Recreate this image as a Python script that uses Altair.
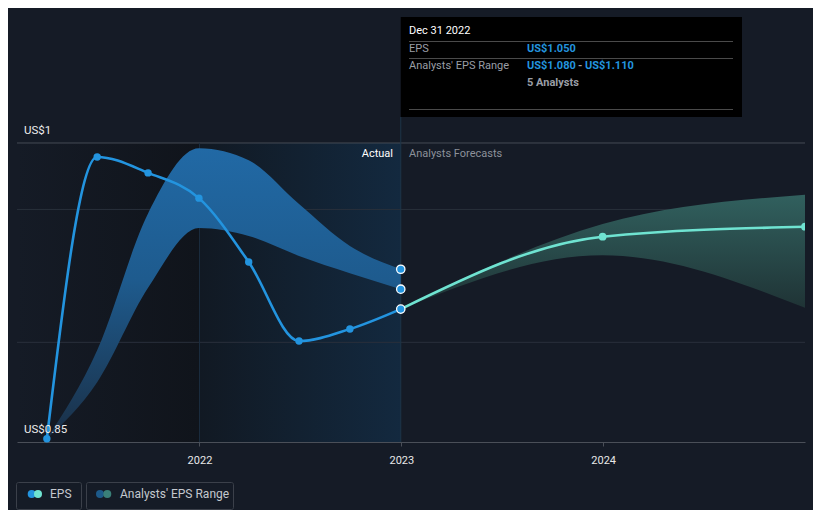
import altair as alt
import pandas as pd

# ---------------- data ----------------
actual_dates = ["2021-03-31", "2021-06-30", "2021-09-30", "2021-12-31",
                "2022-03-31", "2022-06-30", "2022-09-30", "2022-12-31"]
actual_eps = [0.855, 1.279, 1.255, 1.217, 1.121, 1.002, 1.020, 1.050]

past_range_low = [0.855, 0.940, 1.082, 1.172, 1.160, 1.130, 1.104, 1.080]
past_range_high = [0.855, 0.988, 1.194, 1.292, 1.274, 1.208, 1.145, 1.110]

forecast_dates = ["2022-12-31", "2023-12-31", "2024-12-31"]
forecast_eps = [1.050, 1.159, 1.174]
forecast_low = [1.050, 1.131, 1.052]
forecast_high = [1.050, 1.178, 1.222]

last_actual_date = "2022-12-31"
last_actual_values = [1.050, 1.080, 1.110]

gridline_values = [1.3, 1.2, 1.0]
y_label_values = [1.3, 0.85]
y_label_texts = ["US$1", "US$0.85"]
x_tick_years = [2022, 2023, 2024]

shade_past_start = ["2021-02-05"]
shade_past_end = ["2022-01-01"]
shade_recent_start = ["2022-01-01"]
shade_recent_end = ["2022-12-31"]
y_low, y_high = 0.85, 1.4896

# ---------------- styling ----------------
BG = "#151b26"
BLUE = "#2394df"
TEAL = "#6fe3d1"
FONT = "Roboto"

actual_df = pd.DataFrame({"date": actual_dates, "eps": actual_eps,
                          "low": past_range_low, "high": past_range_high})
fc_df = pd.DataFrame({"date": forecast_dates, "eps": forecast_eps,
                      "low": forecast_low, "high": forecast_high})
last_df = pd.DataFrame({"date": [last_actual_date] * 3, "v": last_actual_values})
grid_df = pd.DataFrame({"v": gridline_values, "c": ["top", "mid", "mid"]})
ylab_df = pd.DataFrame({"v": y_label_values, "t": y_label_texts})
shade1 = pd.DataFrame({"s": shade_past_start, "e": shade_past_end, "lo": [y_low], "hi": [1.3]})
shade2 = pd.DataFrame({"s": shade_recent_start, "e": shade_recent_end, "lo": [y_low], "hi": [1.3]})

xscale = alt.Scale(type="utc", domain=[alt.DateTime(year=2021, month=2, date=5, utc=True),
                                       alt.DateTime(year=2024, month=12, date=31, utc=True)])
yscale = alt.Scale(domain=[y_low, y_high], nice=False, zero=False)

xaxis = alt.Axis(
    values=[alt.DateTime(year=y, month=1, date=1, utc=True) for y in x_tick_years],
    format="%Y", formatType="utc", title=None, grid=False,
    domainColor="#4a4f58", tickColor="#4a4f58", tickSize=4,
    labelColor="#e8e8e8", labelFont=FONT, labelFontSize=11, labelPadding=8,
)


def X(field):
    return alt.X(f"{field}:T", scale=xscale, axis=xaxis)


def Y(field):
    return alt.Y(f"{field}:Q", scale=yscale, axis=None)


one = alt.Data(values=[{"a": 1}])

# background shading
rect_past = alt.Chart(shade1).mark_rect(
    fill={"gradient": "linear", "x1": 0, "y1": 0, "x2": 1, "y2": 0,
          "stops": [{"offset": 0, "color": BG}, {"offset": 1, "color": "#10141b"}]}
).encode(x=X("s"), x2="e:T", y=Y("lo"), y2="hi:Q")

rect_recent = alt.Chart(shade2).mark_rect(
    fill={"gradient": "linear", "x1": 0, "y1": 0, "x2": 1, "y2": 0,
          "stops": [{"offset": 0, "color": "#111923"}, {"offset": 1, "color": "#13293f"}]}
).encode(x=X("s"), x2="e:T", y=Y("lo"), y2="hi:Q")

grid = alt.Chart(grid_df).mark_rule(strokeWidth=1).encode(
    y=Y("v"), x=alt.value(0), x2=alt.value(788),
    color=alt.Color("c:N", scale=alt.Scale(domain=["top", "mid"], range=["#454b55", "#29303b"]), legend=None),
)

vline_2022 = alt.Chart(shade2).mark_rule(color="#1b2d3e", strokeWidth=1).encode(
    x=X("s"), y=Y("lo"), y2="hi:Q")

vline_now = alt.Chart(pd.DataFrame({"d": [last_actual_date]})).mark_rule(
    color="#1d3448", strokeWidth=1).encode(x=X("d"), y=alt.value(100), y2=alt.value(425))

past_band = alt.Chart(actual_df).mark_area(
    interpolate="monotone",
    color={"gradient": "linear", "x1": 0, "y1": 0, "x2": 0, "y2": 1,
           "stops": [{"offset": 0, "color": "#2169a5"},
                     {"offset": 0.45, "color": "#1e5b8e"},
                     {"offset": 1, "color": "#1a2f46"}]},
).encode(x=X("date"), y=Y("low"), y2="high:Q")

fc_band = alt.Chart(fc_df).mark_area(
    interpolate="monotone",
    color={"gradient": "linear", "x1": 0, "y1": 0, "x2": 0, "y2": 1,
           "stops": [{"offset": 0, "color": "#31605e"},
                     {"offset": 1, "color": "#1f3335"}]},
).encode(x=X("date"), y=Y("low"), y2="high:Q")

eps_line = alt.Chart(actual_df).mark_line(
    interpolate="monotone", color=BLUE, strokeWidth=2.6).encode(x=X("date"), y=Y("eps"))
eps_pts = alt.Chart(actual_df).mark_circle(color=BLUE, opacity=1, size=55).encode(
    x=X("date"), y=Y("eps"))

fc_line = alt.Chart(fc_df).mark_line(
    interpolate="monotone", color=TEAL, strokeWidth=2.6).encode(x=X("date"), y=Y("eps"))
fc_pts = alt.Chart(fc_df.iloc[1:]).mark_circle(color=TEAL, opacity=1, size=60, clip=True).encode(
    x=X("date"), y=Y("eps"))

last_pts = alt.Chart(last_df).mark_point(
    filled=True, fill=BLUE, stroke="#ffffff", strokeWidth=1.3, size=70, opacity=1, shape="circle"
).encode(x=X("date"), y=Y("v"))

ylabels = alt.Chart(ylab_df).mark_text(
    align="left", baseline="middle", dy=-12, font=FONT, fontSize=11.5, color="#eeeeee"
).encode(x=alt.value(7), y=Y("v"), text="t:N")


def txt(s, x, y, color="#ffffff", bold=False, align="left", size=11):
    return alt.Chart(one).mark_text(
        text=s, align=align, baseline="middle", font=FONT, fontSize=size,
        fontWeight="bold" if bold else "normal", color=color,
    ).encode(x=alt.value(x), y=alt.value(y))


def hline(x1, x2, y, color):
    return alt.Chart(one).mark_rule(color=color, strokeWidth=1).encode(
        x=alt.value(x1), x2=alt.value(x2), y=alt.value(y))


actual_lbl = txt("Actual", 376, 137, "#ffffff", align="right")
fc_lbl = txt("Analysts Forecasts", 392, 137, "#8c919a")

# tooltip box
tip_box = alt.Chart(pd.DataFrame({"d": [last_actual_date]})).mark_rect(color="#000000").encode(
    x=X("d"), x2=alt.value(725), y=alt.value(0), y2=alt.value(100))
GRAY = "#9a9ea6"
tip = [
    tip_box,
    txt("Dec 31 2022", 392, 14, "#ffffff"),
    hline(392, 716, 24.5, "#4a4a4a"),
    txt("EPS", 392, 32, GRAY),
    txt("US$1.050", 510, 32, BLUE, bold=True),
    hline(392, 716, 41.5, "#4a4a4a"),
    txt("Analysts' EPS Range", 392, 49, GRAY),
    txt("US$1.080", 510, 49, BLUE, bold=True),
    txt("-", 561, 49, GRAY, bold=True),
    txt("US$1.110", 568, 49, BLUE, bold=True),
    txt("5 Analysts", 510, 66, GRAY, bold=True),
    hline(392, 716, 92.5, "#4a4a4a"),
]


# legend
def box(x1, x2):
    return alt.Chart(one).mark_rect(fillOpacity=0, stroke="#3b404a", strokeWidth=1, cornerRadius=2).encode(
        x=alt.value(x1), x2=alt.value(x2), y=alt.value(465.5), y2=alt.value(492.5))


def dot(x, color):
    return alt.Chart(one).mark_circle(color=color, opacity=1, size=64).encode(
        x=alt.value(x), y=alt.value(477))


legend = [
    box(-0.5, 64.5), box(69.5, 216.5),
    dot(14.7, BLUE), dot(21, TEAL),
    dot(83, "#1d5a8a"), dot(90.3, "#3a7f78"),
    txt("EPS", 33, 477, "#c4c8ce", size=12),
    txt("Analysts' EPS Range", 103, 477, "#c4c8ce", size=12),
]

chart = alt.layer(
    rect_past, rect_recent, grid, vline_2022, vline_now,
    past_band, fc_band, eps_line, fc_line, eps_pts, fc_pts, last_pts,
    ylabels, actual_lbl, fc_lbl, *tip, *legend,
).properties(
    width=788, height=425,
    padding={"left": 9, "top": 9, "right": 8, "bottom": 68},
    autosize=alt.AutoSizeParams(type="none"),
    background=BG,
).configure_view(stroke=None)

chart.save("out.html", embed_options={"renderer": "svg", "actions": False})
